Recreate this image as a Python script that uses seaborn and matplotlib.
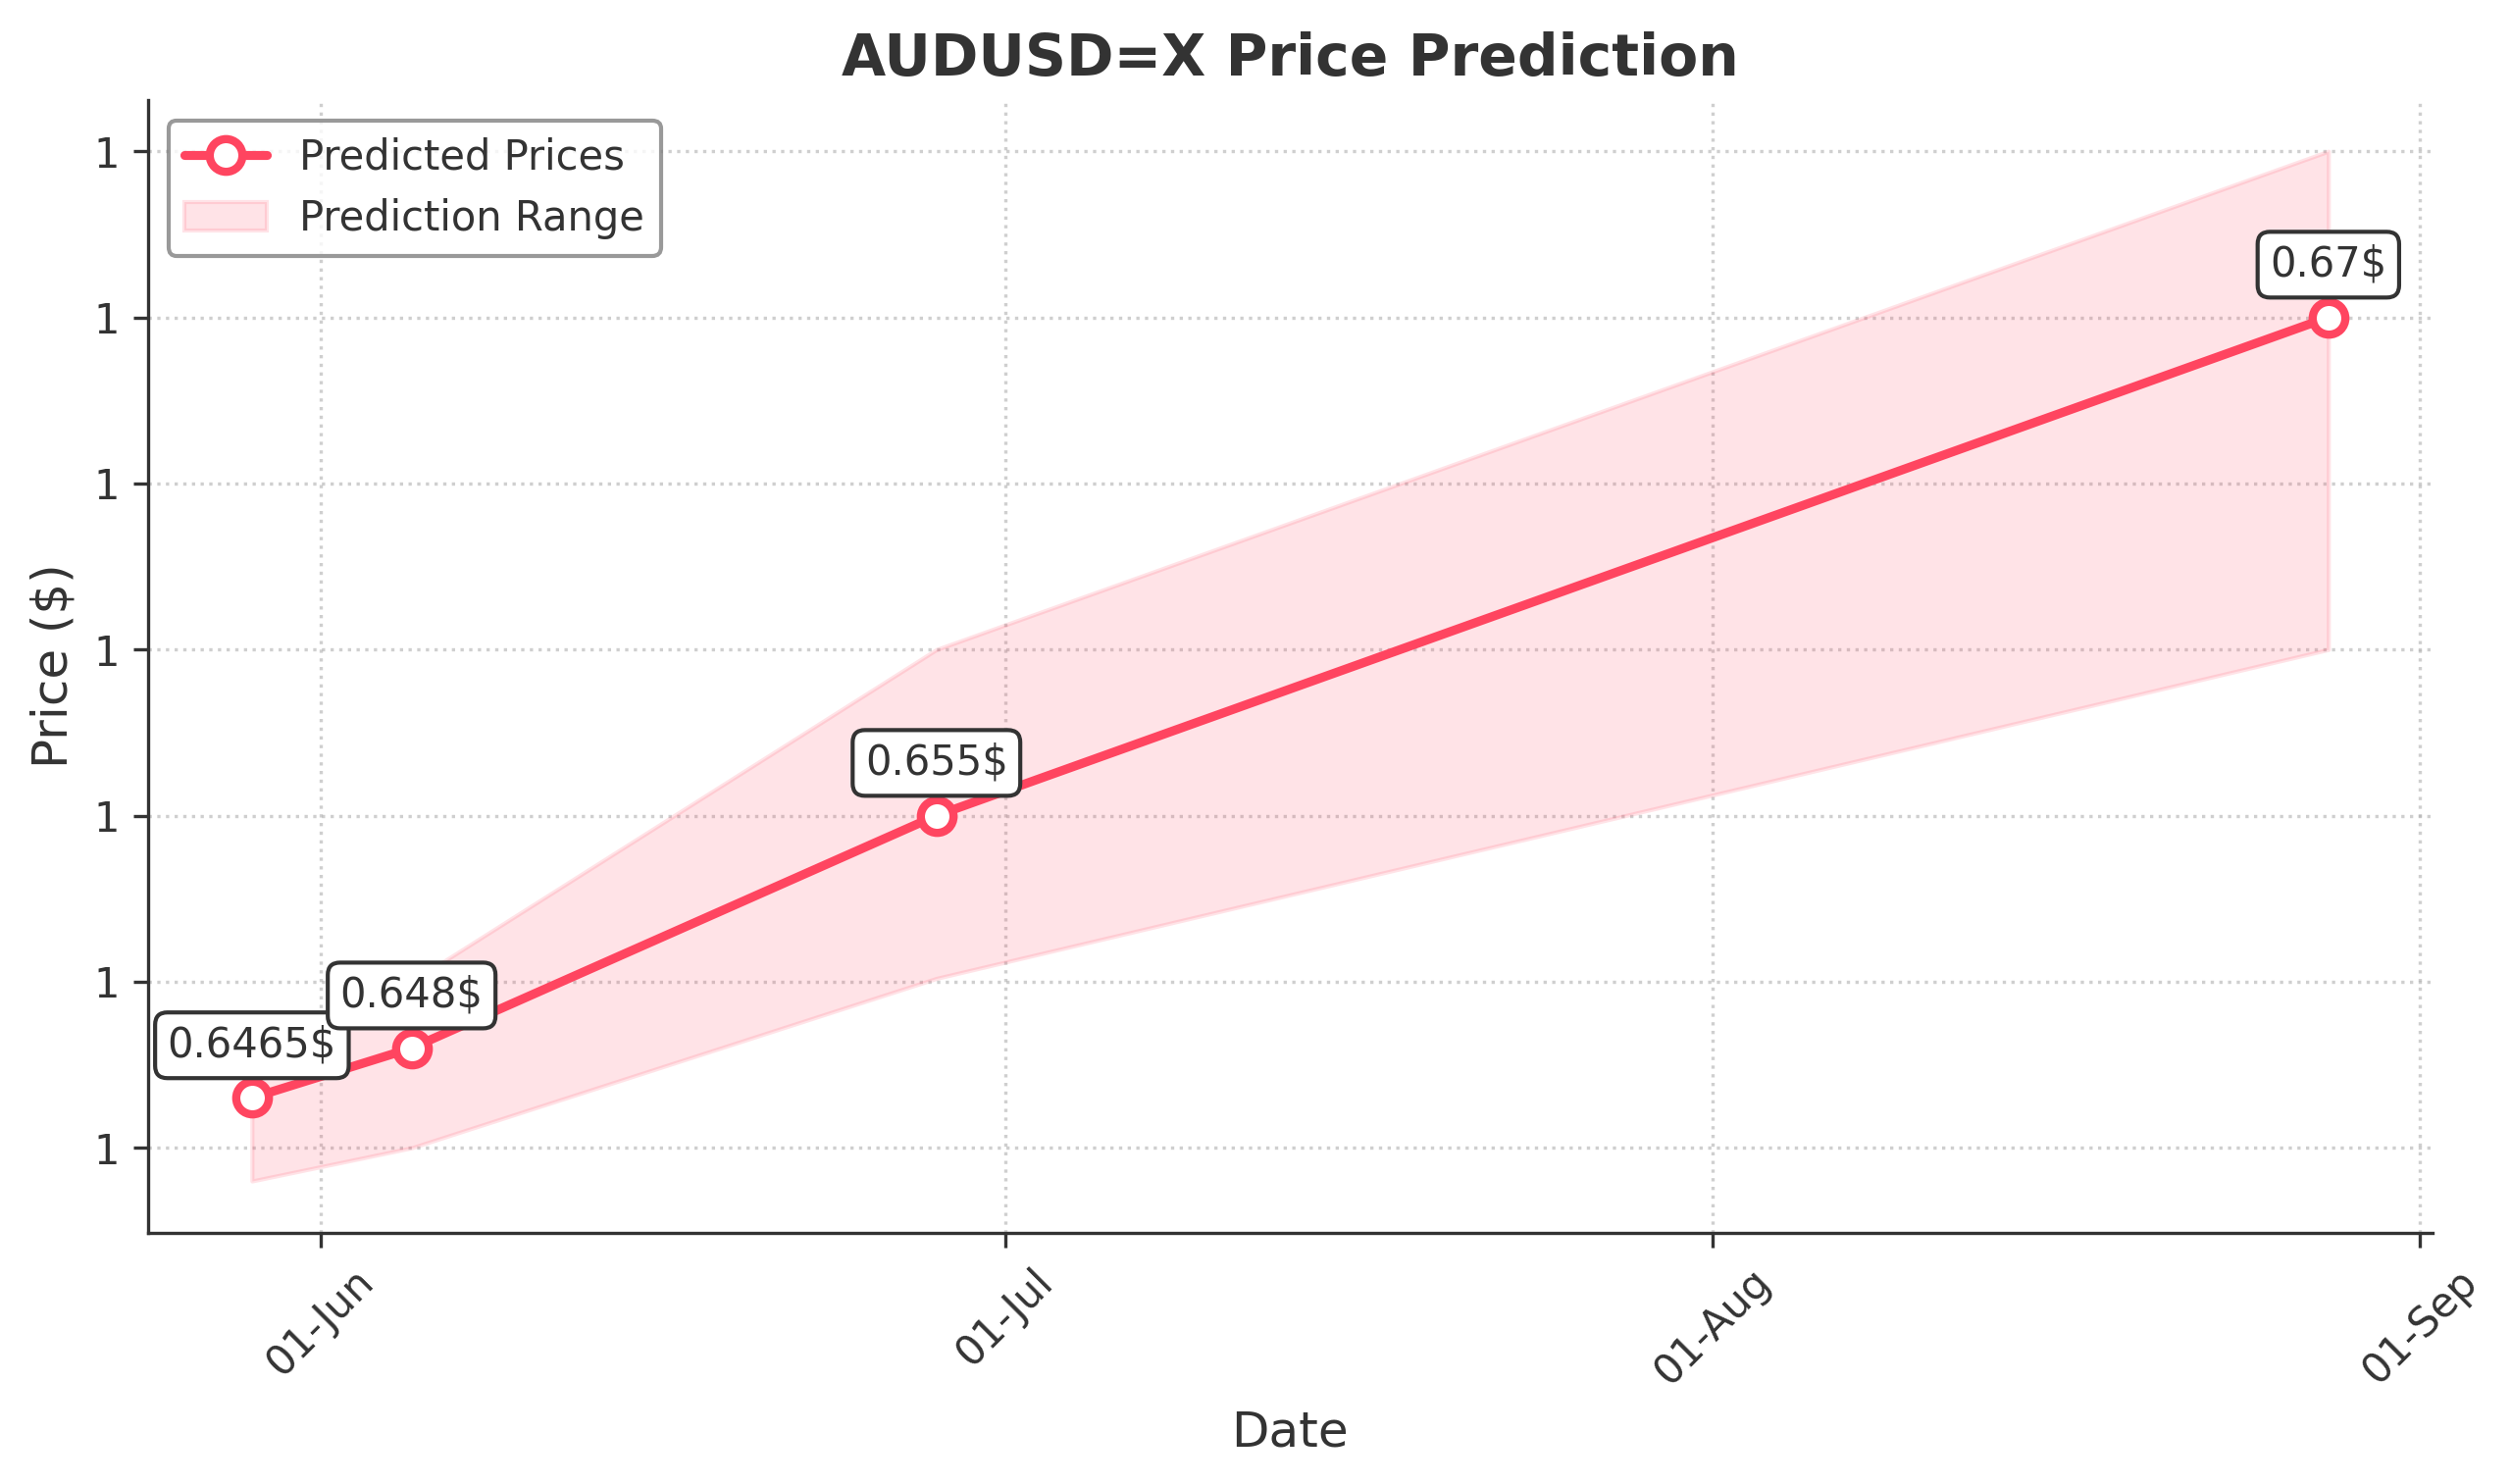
import matplotlib
matplotlib.use("Agg")
import matplotlib.pyplot as plt
import matplotlib.dates as mdates
from matplotlib.ticker import FormatStrFormatter
import seaborn as sns
import pandas as pd

# ---- data ----
dates = ["2025-05-29", "2025-06-05", "2025-06-28", "2025-08-28"]
predicted = [0.6465, 0.648, 0.655, 0.67]
lower_bound = [0.6440, 0.6450, 0.6501, 0.6600]
upper_bound = [0.6475, 0.6500, 0.6600, 0.6750]
labels = ["0.6465$", "0.648$", "0.655$", "0.67$"]

title = "AUDUSD=X Price Prediction"
line_color = "#FF4560"
text_color = "#333333"

sns.set_style("ticks")
plt.rcParams.update({
    "font.family": ["DejaVu Sans"],
    "text.color": text_color,
    "axes.labelcolor": text_color,
    "axes.edgecolor": text_color,
    "xtick.color": text_color,
    "ytick.color": text_color,
    "axes.linewidth": 0.8,
    "xtick.major.size": 3.5,
    "ytick.major.size": 3.5,
    "xtick.major.width": 0.8,
    "ytick.major.width": 0.8,
})

df = pd.DataFrame({
    "Date": pd.to_datetime(dates),
    "Predicted": predicted,
    "Lower": lower_bound,
    "Upper": upper_bound,
})

dpi = 300
fig = plt.figure(figsize=(2559 / dpi, 1513 / dpi), dpi=dpi)
ax = fig.add_axes([0.059, 0.1695, 0.910, 0.7633])

ax.fill_between(df["Date"], df["Lower"], df["Upper"], color=line_color,
                alpha=0.15, label="Prediction Range", zorder=1)
sns.lineplot(data=df, x="Date", y="Predicted", ax=ax, color=line_color,
             linewidth=2.2, marker="o", markersize=8, markerfacecolor="white",
             markeredgecolor=line_color, markeredgewidth=2,
             label="Predicted Prices", zorder=3)

for d, v, lab in zip(df["Date"], df["Predicted"], labels):
    ax.annotate(lab, xy=(d, v), xytext=(0, 10), textcoords="offset points",
                ha="center", fontsize=10, color=text_color, zorder=5,
                bbox=dict(boxstyle="round,pad=0.3", fc="white",
                          ec=text_color, lw=1))

ax.set_title(title, fontsize=14, fontweight="bold", color=text_color)
ax.set_xlabel("Date", fontsize=12)
ax.set_ylabel("Price ($)", fontsize=12)
ax.tick_params(axis="both", labelsize=10)

ax.xaxis.set_major_locator(mdates.MonthLocator())
ax.xaxis.set_major_formatter(mdates.DateFormatter("%d-%b"))
ax.yaxis.set_major_formatter(FormatStrFormatter("%.0f"))
plt.setp(ax.get_xticklabels(), rotation=45, ha="center")

ax.grid(True, linestyle=":", color="#b0b0b0", alpha=0.6, linewidth=0.8)
sns.despine(ax=ax)

handles, labs = ax.get_legend_handles_labels()
order = [labs.index("Predicted Prices"), labs.index("Prediction Range")]
leg = ax.legend([handles[i] for i in order], [labs[i] for i in order],
                loc="upper left", fontsize=10, frameon=True)
leg.get_frame().set_edgecolor("gray")
leg.get_frame().set_linewidth(1.0)

fig.savefig("out.png", dpi=dpi)
